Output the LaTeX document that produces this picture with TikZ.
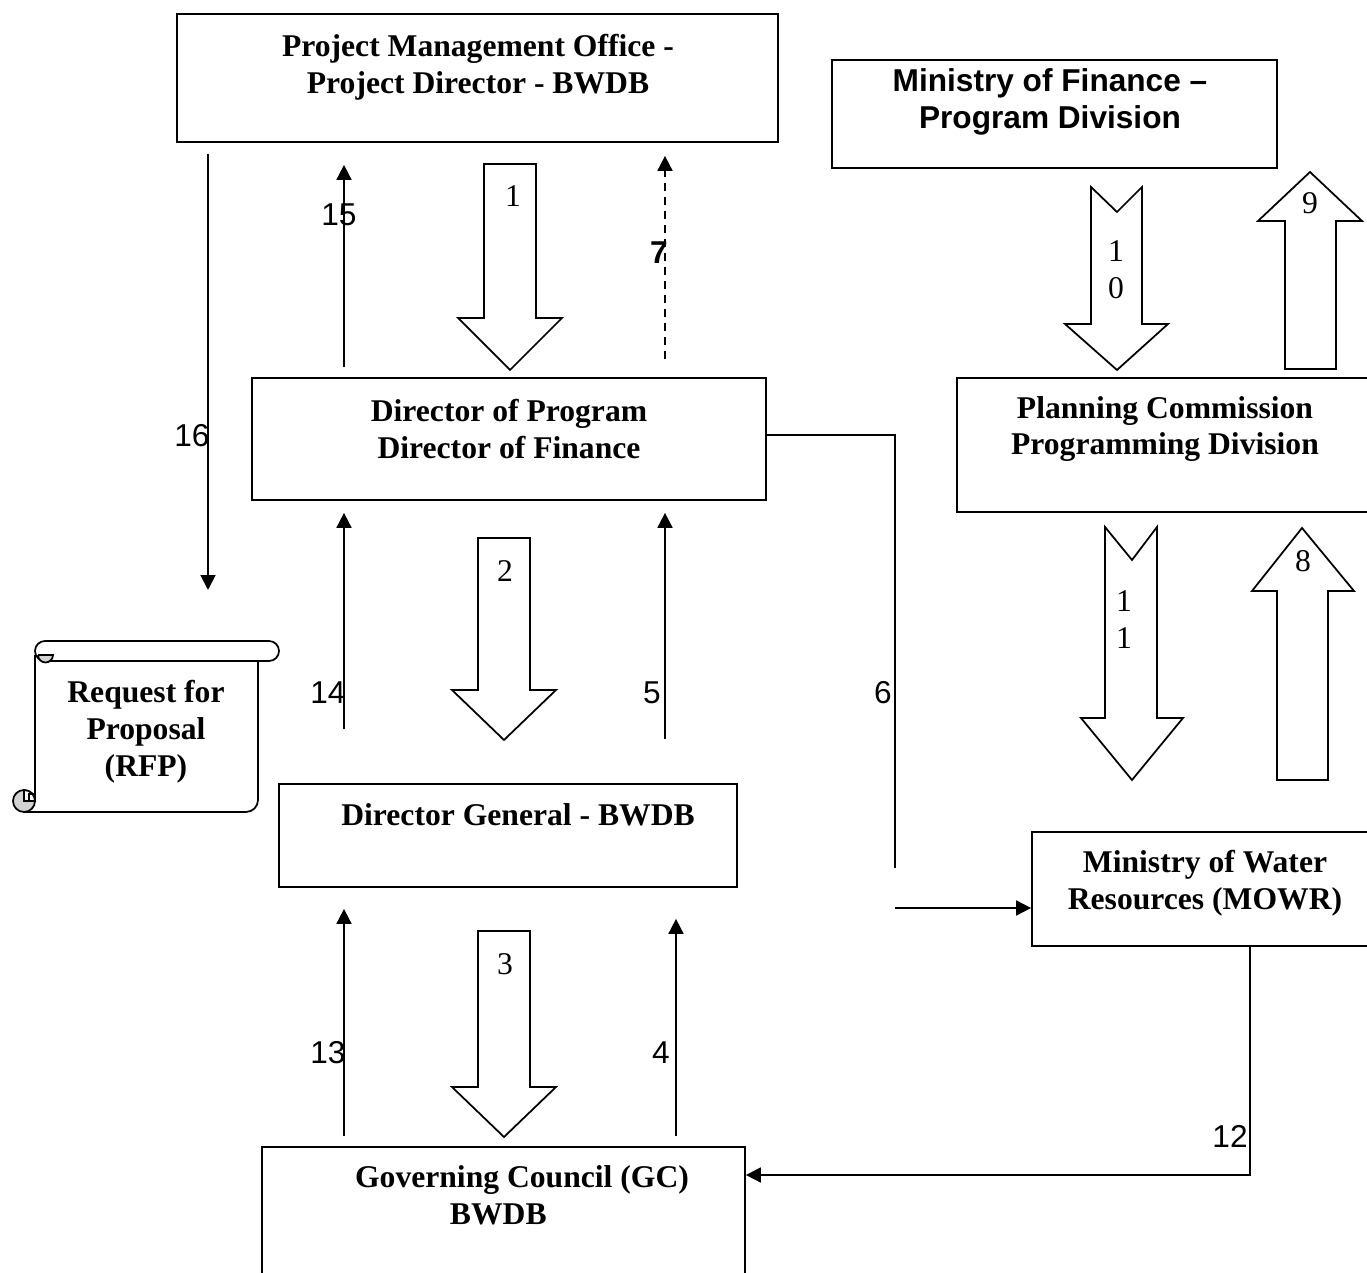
\documentclass[tikz,border=0pt]{standalone}
\usepackage{fontspec}
\setmainfont{Liberation Serif}
\setsansfont{Liberation Sans}
\usetikzlibrary{arrows.meta,fit}
\tikzset{
  box/.style={draw, line width=1pt, inner sep=0pt},
  title/.style={font=\fontsize{18}{21}\selectfont\bfseries, align=center, inner sep=0pt},
  num/.style={font=\fontsize{18}{21}\selectfont\sffamily, inner sep=0pt},
  digit/.style={font=\fontsize{18}{21}\selectfont, align=center, inner sep=0pt},
  block/.style={draw, line width=1pt, fill=white},
  flow/.style={line width=1pt, -{Triangle[length=0.3cm, width=0.3cm]}}
}
\begin{document}
\begin{tikzpicture}[x=0.02cm, y=-0.02cm]
    \path [use as bounding box, clip] (0, 0) rectangle (1367, 1273);

    \node [box, fit={(177, 14) (778, 142)}] (pmo) {};
    \node [box, fit={(832, 60) (1277, 168)}] (mof) {};
    \node [box, fit={(252, 378) (766, 500)}] (dop) {};
    \node [box, fit={(957, 378) (1380, 512)}] (pc) {};
    \node [box, fit={(279, 784) (737, 887)}] (dg) {};
    \node [box, fit={(1032, 832) (1380, 946)}] (mowr) {};
    \node [box, fit={(262, 1147) (745, 1300)}] (gc) {};

    \node [title] (pmo text) at (478, 67) {Project Management Office -\\Project Director - BWDB};
    \node [title, font=\fontsize{18}{21}\selectfont\sffamily\bfseries] (mof text) at (1050, 102) {Ministry of Finance --\\Program Division};
    \node [title] (dop text) at (509, 429) {Director of Program\\Director of Finance};
    \node [title] (pc text) at (1165, 429) {Planning Commission\\Programming Division};
    \node [title] (dg text) at (518, 815) {Director General - BWDB};
    \node [title] (mowr text) at (1205, 883) {Ministry of Water\\Resources (MOWR)};
    \node [title] (gc text) at (522, 1195) {Governing Council (GC)\\BWDB\kern27pt};

    % scroll
    \draw [line width=1pt, rounded corners=0.2cm] (35, 641) rectangle (279, 661);
    \filldraw [line width=1pt, fill=gray!35] (38, 655) -- (53, 655) arc [start angle=0, end angle=180, radius=7.5] -- cycle;
    \draw [line width=1pt] (35, 655) -- (35, 801);
    \draw [line width=1pt, rounded corners=0.24cm] (258, 661) -- (258, 812) -- (23, 812);
    \filldraw [line width=1pt, fill=gray!35] (24, 801) circle [radius=11];
    \filldraw [line width=1pt, fill=white] (24, 801) -- (24, 790) arc [start angle=-90, end angle=0, radius=11] -- cycle;
    \draw [line width=1pt] (35, 794) -- (29, 794) -- (29, 801);
    \node [title] (rfp) at (146, 732) {Request for\\Proposal\\(RFP)};

    \draw [block] (484, 164) -- (536, 164) -- (536, 318) -- (562, 318) -- (510, 370) -- (458, 318) -- (484, 318) -- cycle;
    \draw [block] (478, 538) -- (530, 538) -- (530, 690) -- (556, 690) -- (504, 740) -- (452, 690) -- (478, 690) -- cycle;
    \draw [block] (478, 931) -- (530, 931) -- (530, 1087) -- (556, 1087) -- (504, 1137) -- (452, 1087) -- (478, 1087) -- cycle;
    \draw [block] (1091, 187) -- (1117, 212) -- (1142, 187) -- (1142, 324) -- (1168, 324) -- (1117, 370) -- (1065, 324) -- (1091, 324) -- cycle;
    \draw [block] (1285, 369) -- (1285, 221) -- (1258, 221) -- (1310, 172) -- (1362, 221) -- (1336, 221) -- (1336, 369) -- cycle;
    \draw [block] (1105, 527) -- (1132, 560) -- (1157, 527) -- (1157, 718) -- (1183, 718) -- (1132, 780) -- (1081, 718) -- (1105, 718) -- cycle;
    \draw [block] (1277, 780) -- (1277, 591) -- (1252, 591) -- (1302, 528) -- (1354, 591) -- (1328, 591) -- (1328, 780) -- cycle;

    \node [digit] (n1) at (513, 196) {1};
    \node [digit] (n2) at (505, 571) {2};
    \node [digit] (n3) at (505, 964) {3};
    \node [digit] (n10) at (1116, 270) {1\\0};
    \node [digit] (n9) at (1310, 203) {9};
    \node [digit] (n11) at (1124, 620) {1\\1};
    \node [digit] (n8) at (1303, 561) {8};

    \coordinate (rfp top) at (208, 590);
    \draw [flow, shorten <=0.22cm] (pmo.south -| 208, 0) -- (rfp top);
    \draw [flow, shorten <=0.2cm, shorten >=0.44cm] (dop.north -| 344, 0) -- (pmo.south -| 344, 0);
    \draw [flow, dash pattern=on 0.16cm off 0.12cm, shorten <=0.36cm, shorten >=0.26cm] (dop.north -| 665, 0) -- (pmo.south -| 665, 0);
    \draw [flow, shorten <=1.08cm, shorten >=0.24cm] (dg.north -| 344, 0) -- (dop.south -| 344, 0);
    \draw [flow, shorten <=0.88cm, shorten >=0.24cm] (dg.north -| 665, 0) -- (dop.south -| 665, 0);
    \draw [flow, shorten <=0.2cm, shorten >=0.42cm] (gc.north -| 344, 0) -- (dg.south -| 344, 0);
    \draw [flow, shorten <=0.2cm, shorten >=0.62cm] (gc.north -| 676, 0) -- (dg.south -| 676, 0);
    \draw [line width=1pt] (dop.east |- 0, 435) -| (895, 868);
    \draw [flow] (895, 908) -- (mowr.west |- 0, 908);
    \draw [flow] (mowr.south -| 1250, 0) |- (gc.east |- 0, 1175);

    \node [num] (l16) at (192, 436) {16};
    \node [num] (l15) at (339, 215) {15};
    \node [num, font=\fontsize{18}{21}\selectfont\sffamily\bfseries] (l7) at (659, 253) {7};
    \node [num] (l14) at (328, 693) {14};
    \node [num] (l5) at (652, 693) {5};
    \node [num] (l6) at (883, 693) {6};
    \node [num] (l13) at (328, 1053) {13};
    \node [num] (l4) at (661, 1053) {4};
    \node [num] (l12) at (1230, 1136) {12};
\end{tikzpicture}
\end{document}
